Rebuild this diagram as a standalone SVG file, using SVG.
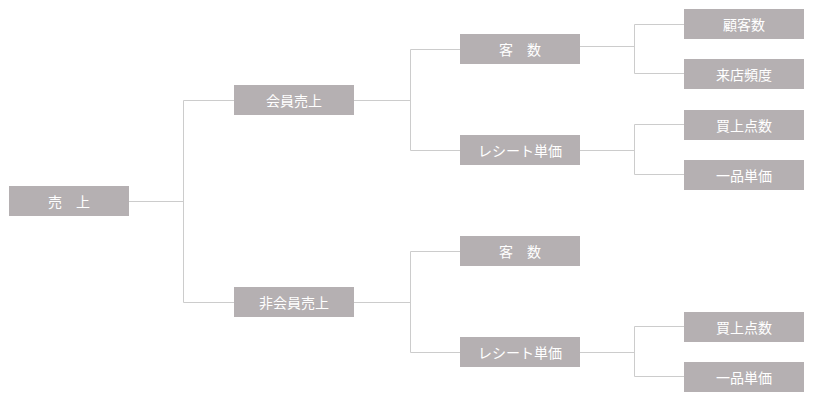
<svg xmlns="http://www.w3.org/2000/svg" width="813" height="401" viewBox="0 0 813 401">
<style>
.box{fill:#b5b0b2}
.lbl{fill:#ffffff;font-family:"Noto Sans CJK JP","Noto Sans CJK SC",sans-serif;font-size:14px;text-anchor:middle;dominant-baseline:central}
.conn path{fill:none;stroke:#cccccc;stroke-width:1}
</style>
<rect width="813" height="401" fill="#ffffff"/>
<g class="conn" id="connectors">
<path d="M129 201.5H183.5M183.5 100.5V302.5M183.5 100.5H234M183.5 302.5H234"/>
<path d="M354 100.5H410.5M410.5 49.5V150.5M410.5 49.5H460M410.5 150.5H460"/>
<path d="M354 302.5H410.5M410.5 251.5V352.5M410.5 251.5H460M410.5 352.5H460"/>
<path d="M580 46.5H634.5M634.5 24.5V73.5M634.5 24.5H684M634.5 73.5H684"/>
<path d="M580 150.5H634.5M634.5 124.5V174.5M634.5 124.5H684M634.5 174.5H684"/>
<path d="M580 352.5H634.5M634.5 326.5V376.5M634.5 326.5H684M634.5 376.5H684"/>
</g>
<g id="n-uriage"><rect class="box" x="9" y="186" width="120" height="30"/><text class="lbl" x="69" y="201">売　上</text></g>
<g id="n-kaiin"><rect class="box" x="234" y="85" width="120" height="30"/><text class="lbl" x="294" y="100">会員売上</text></g>
<g id="n-hikaiin"><rect class="box" x="234" y="287" width="120" height="30"/><text class="lbl" x="294" y="302">非会員売上</text></g>
<g id="n-kyakusu1"><rect class="box" x="460" y="34" width="120" height="30"/><text class="lbl" x="520" y="49">客　数</text></g>
<g id="n-receipt1"><rect class="box" x="460" y="135" width="120" height="30"/><text class="lbl" x="520" y="150">レシート単価</text></g>
<g id="n-kyakusu2"><rect class="box" x="460" y="236" width="120" height="30"/><text class="lbl" x="520" y="251">客　数</text></g>
<g id="n-receipt2"><rect class="box" x="460" y="337" width="120" height="30"/><text class="lbl" x="520" y="352">レシート単価</text></g>
<g id="n-kokyakusu"><rect class="box" x="684" y="9" width="120" height="30"/><text class="lbl" x="744" y="24">顧客数</text></g>
<g id="n-raiten"><rect class="box" x="684" y="59" width="120" height="30"/><text class="lbl" x="744" y="74">来店頻度</text></g>
<g id="n-kaiage1"><rect class="box" x="684" y="110" width="120" height="30"/><text class="lbl" x="744" y="125">買上点数</text></g>
<g id="n-ippin1"><rect class="box" x="684" y="160" width="120" height="30"/><text class="lbl" x="744" y="175">一品単価</text></g>
<g id="n-kaiage2"><rect class="box" x="684" y="312" width="120" height="30"/><text class="lbl" x="744" y="327">買上点数</text></g>
<g id="n-ippin2"><rect class="box" x="684" y="362" width="120" height="30"/><text class="lbl" x="744" y="377">一品単価</text></g>
</svg>
